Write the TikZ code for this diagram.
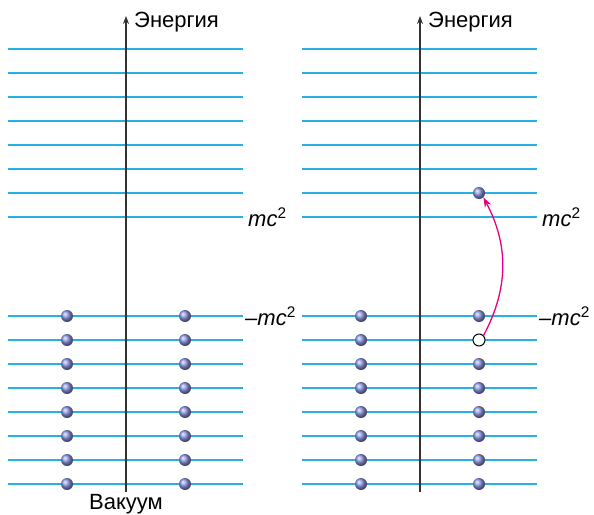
\documentclass[tikz,border=0pt]{standalone}
\usepackage{fontspec}
\setmainfont{Liberation Sans}
\usetikzlibrary{arrows.meta,shadings}
\definecolor{lvl}{RGB}{40,175,230}
\definecolor{ballc}{RGB}{140,150,228}
\definecolor{arr}{RGB}{230,0,130}
\definecolor{axc}{RGB}{50,50,50}
\tikzset{
  level/.style={lvl,line width=1.3pt},
  axis/.style={axc,line width=1.4pt,-{Stealth[length=8pt,width=6pt]}},
  particle/.style={circle,inner sep=0pt,minimum size=12pt,shading=ball,ball color=ballc},
  hole/.style={circle,inner sep=0pt,minimum size=12pt,draw=black,fill=white,line width=1pt},
  lbl/.style={font=\fontsize{22}{25}\selectfont,inner sep=0pt},
}
\begin{document}
\begin{tikzpicture}[x=1pt,y=-1pt]
\useasboundingbox (0,0) rectangle (594,514);
% levels
\foreach \xa/\xb in {8/243,302/537}{
  \foreach \k in {0,...,7}{
    \draw[level] (\xa,49+24*\k) -- (\xb,49+24*\k);
    \draw[level] (\xa,316+24*\k) -- (\xb,316+24*\k);
  }
}
% axes
\coordinate (axLb) at (126,492);
\coordinate (axLt) at (126,16);
\coordinate (axRb) at (420,492);
\coordinate (axRt) at (420,16);
\draw[axis] (axLb) -- (axLt);
\draw[axis] (axRb) -- (axRt);
\node[lbl,anchor=west] (enL) at (134,22) {Энергия};
\node[lbl,anchor=west] (enR) at (428,22) {Энергия};
% labels
\node[lbl,anchor=west] (mcL) at (248,217) {\itshape mc\textsuperscript{\upshape 2}};
\node[lbl,anchor=west] (nmcL) at (245,316) {\itshape –mc\textsuperscript{\upshape 2}};
\node[lbl,anchor=west] (mcR) at (542,217) {\itshape mc\textsuperscript{\upshape 2}};
\node[lbl,anchor=west] (nmcR) at (539,316) {\itshape –mc\textsuperscript{\upshape 2}};
\node[lbl] (vac) at (126,504) {Вакуум};
% particles
\foreach \k in {0,...,7}{
  \node[particle] (pa\k) at (67,316+24*\k) {};
  \node[particle] (pb\k) at (185,316+24*\k) {};
  \node[particle] (pc\k) at (361,316+24*\k) {};
}
\foreach \k in {0,2,3,4,5,6,7}{
  \node[particle] (pd\k) at (479,316+24*\k) {};
}
\node[hole] (h) at (479,340) {};
\node[particle] (top) at (479,193) {};
\draw[arr,line width=1.3pt,-{Stealth[length=10pt,width=7pt]}] (h.north east) to[out=62,in=-62] (top.south east);
\end{tikzpicture}
\end{document}
